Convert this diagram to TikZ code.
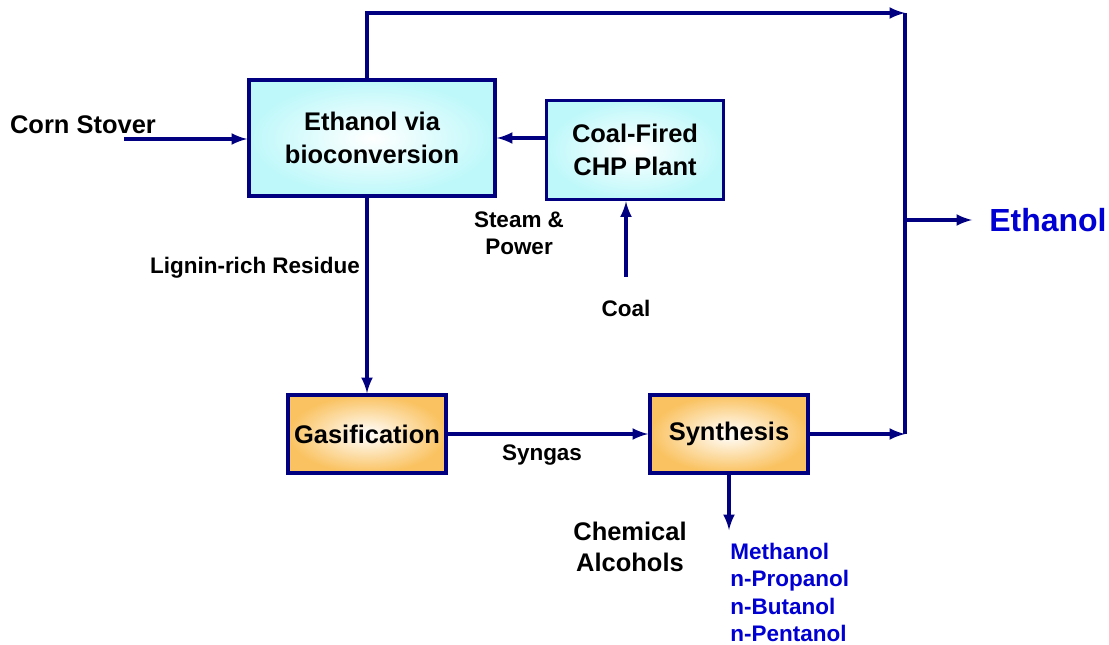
\documentclass[tikz,border=0pt]{standalone}
\usepackage{fontspec}
\setmainfont{Liberation Sans}
\usepackage{tikz}
\usetikzlibrary{arrows,calc}

\definecolor{navy}{RGB}{0,0,128}
\definecolor{boxcyan}{RGB}{190,248,250}
\definecolor{boxorange}{RGB}{250,194,96}
\definecolor{prodblue}{RGB}{0,0,210}

\begin{document}
\begin{tikzpicture}[x=0.02cm, y=-0.02cm,
    flow/.style={draw=navy, line width=2pt, -latex},
    pipe/.style={draw=navy, line width=2pt},
    unitbox/.style={draw=navy, line width=2.2pt, shading=radial, inner color=white, align=center,
                    font=\fontsize{14.5}{18.5}\selectfont\bfseries},
    lbl/.style={font=\fontsize{12.8}{15.5}\selectfont\bfseries, align=center, inner sep=0pt}]
    \useasboundingbox (0,0) rectangle (1109,645);

    \node[unitbox, outer color=boxcyan, minimum width=4.92cm, minimum height=2.32cm] (eth) at (372, 138) {Ethanol via\\bioconversion};
    \node[unitbox, outer color=boxcyan, minimum width=3.54cm, minimum height=1.98cm] (chp) at (635, 150) {Coal-Fired\\CHP Plant};
    \node[unitbox, outer color=boxorange, minimum width=3.16cm, minimum height=1.56cm] (gas) at (367, 434) {Gasification};
    \node[unitbox, outer color=boxorange, minimum width=3.16cm, minimum height=1.56cm] (syn) at (729, 434) {Synthesis};

    \node[lbl, font=\fontsize{14.5}{18}\selectfont\bfseries] (corn) at (83, 125) {Corn Stover};
    \node[lbl] (lignin) at (255, 268) {Lignin-rich Residue};
    \node[lbl] (steam) at (519, 233) {Steam \&\\Power};
    \node[lbl] (coal) at (626, 308) {Coal};
    \node[lbl] (syngas) at (542, 455) {Syngas};
    \node[lbl, font=\fontsize{14.5}{18}\selectfont\bfseries] (chem) at (630, 547) {Chemical\\Alcohols};
    \node[lbl, align=left, anchor=north west, text=prodblue] (alcs) at (730, 543) {Methanol\\n-Propanol\\n-Butanol\\n-Pentanol};
    \node[lbl, anchor=west, inner sep=0.34cm, text=prodblue, font=\fontsize{18.2}{20}\selectfont\bfseries] (ethout) at (972, 220) {Ethanol};

    \coordinate (cornin) at (124, 139);
    \coordinate (coalin) at (626, 277);
    \coordinate (jtop) at (905, 13);
    \coordinate (jmid) at (905, 220);
    \coordinate (jbot) at (905, 434);
    \coordinate (alcout) at (729, 530);

    \draw[flow] (cornin) -- (cornin -| eth.west);
    \draw[flow] (chp.west |- eth.east) -- (eth.east);
    \draw[flow] (coalin) -- (coalin |- chp.south);
    \draw[flow] (eth.south -| gas.north) -- (gas.north);
    \draw[flow] (gas.east) -- (syn.west);
    \draw[flow] (syn.south) -- (alcout);
    \draw[flow] (gas.north |- eth.north) |- (jtop);
    \draw[pipe] (jtop) -- (jbot);
    \draw[flow] (syn.east) -- (jbot);
    \draw[flow] (jmid) -- (ethout.west);
\end{tikzpicture}
\end{document}
